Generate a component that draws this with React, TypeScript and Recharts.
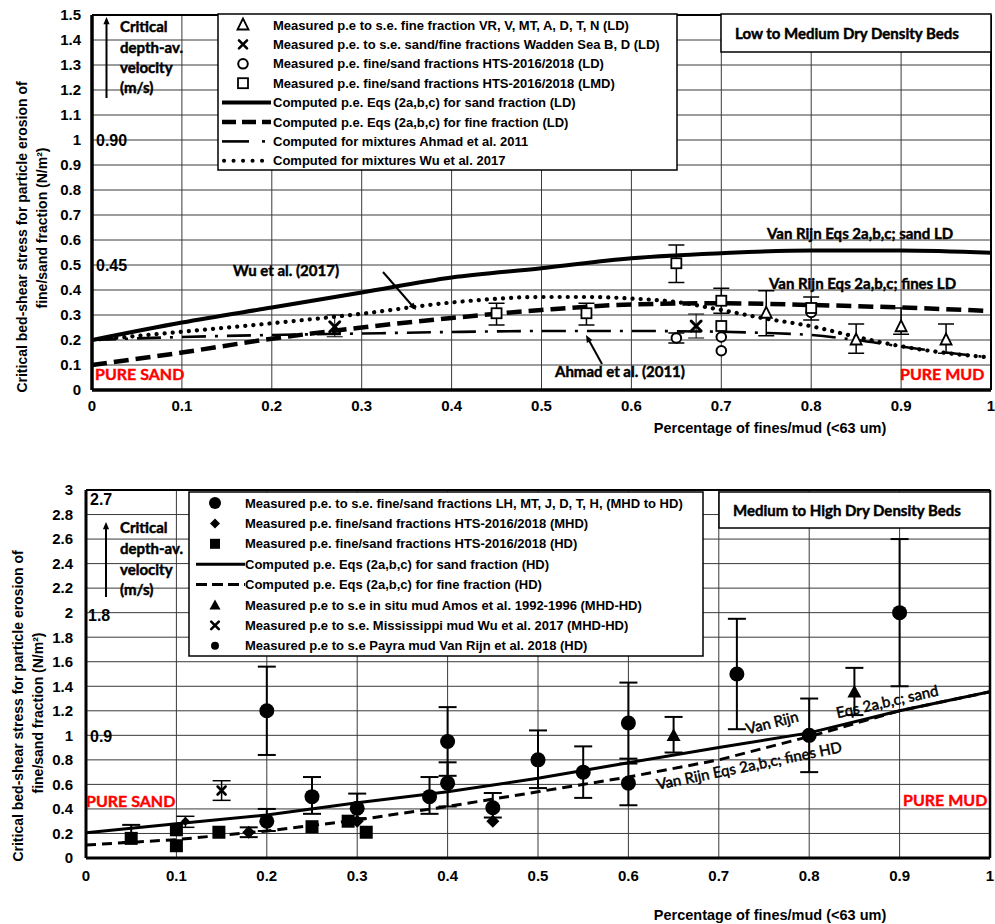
import React from "react";
import {
  CartesianGrid,
  ComposedChart,
  ErrorBar,
  Line,
  ReferenceLine,
  Scatter,
  XAxis,
  YAxis,
} from "recharts";

// shared x axis: fraction of fines/mud
const FRACTION_TICKS = [0, 0.1, 0.2, 0.3, 0.4, 0.5, 0.6, 0.7, 0.8, 0.9, 1];
const LD_STRESS_TICKS = [0, 0.1, 0.2, 0.3, 0.4, 0.5, 0.6, 0.7, 0.8, 0.9, 1, 1.1, 1.2, 1.3, 1.4, 1.5];
const HD_STRESS_TICKS = [0, 0.2, 0.4, 0.6, 0.8, 1, 1.2, 1.4, 1.6, 1.8, 2, 2.2, 2.4, 2.6, 2.8, 3];

// ---- low to medium dry density (top panel) ----
const sandLD = [
  { x: 0, y: 0.2 }, { x: 0.1, y: 0.27 }, { x: 0.2, y: 0.33 }, { x: 0.3, y: 0.39 },
  { x: 0.4, y: 0.45 }, { x: 0.5, y: 0.487 }, { x: 0.6, y: 0.527 }, { x: 0.7, y: 0.547 },
  { x: 0.8, y: 0.558 }, { x: 0.9, y: 0.558 }, { x: 1, y: 0.549 },
];
const finesLD = [
  { x: 0, y: 0.1 }, { x: 0.1, y: 0.15 }, { x: 0.2, y: 0.205 }, { x: 0.3, y: 0.25 },
  { x: 0.4, y: 0.288 }, { x: 0.5, y: 0.32 }, { x: 0.6, y: 0.342 }, { x: 0.7, y: 0.347 },
  { x: 0.8, y: 0.34 }, { x: 0.9, y: 0.33 }, { x: 1, y: 0.316 },
];
const ahmadLD = [
  { x: 0, y: 0.2 }, { x: 0.1, y: 0.212 }, { x: 0.2, y: 0.22 }, { x: 0.3, y: 0.226 },
  { x: 0.4, y: 0.232 }, { x: 0.5, y: 0.236 }, { x: 0.6, y: 0.236 }, { x: 0.7, y: 0.233 },
  { x: 0.75, y: 0.228 }, { x: 0.8, y: 0.22 }, { x: 0.85, y: 0.2 }, { x: 0.9, y: 0.174 },
  { x: 0.95, y: 0.15 }, { x: 1, y: 0.13 },
];
const wuLD = [
  { x: 0, y: 0.2 }, { x: 0.1, y: 0.233 }, { x: 0.2, y: 0.267 }, { x: 0.3, y: 0.305 },
  { x: 0.4, y: 0.35 }, { x: 0.5, y: 0.372 }, { x: 0.55, y: 0.372 }, { x: 0.6, y: 0.366 },
  { x: 0.65, y: 0.352 }, { x: 0.7, y: 0.32 }, { x: 0.75, y: 0.285 }, { x: 0.8, y: 0.255 },
  { x: 0.85, y: 0.213 }, { x: 0.9, y: 0.175 }, { x: 0.95, y: 0.148 }, { x: 1, y: 0.13 },
];
const finesVR_LD = [
  { x: 0.75, y: 0.307, err: [0.09, 0.09] },
  { x: 0.85, y: 0.2, err: [0.053, 0.064] },
  { x: 0.9, y: 0.253, err: [0.03, 0.075] },
  { x: 0.95, y: 0.2, err: [0.053, 0.064] },
];
const waddenLD = [
  { x: 0.27, y: 0.253, err: [0.04, 0.047] },
  { x: 0.672, y: 0.256, err: [0.048, 0.048] },
];
const htsLD = [
  { x: 0.65, y: 0.208, err: [0.02, 0.02] },
  { x: 0.7, y: 0.212 },
  { x: 0.7, y: 0.157 },
  { x: 0.8, y: 0.31 },
];
const htsLMD = [
  { x: 0.45, y: 0.307, err: [0.047, 0.04] },
  { x: 0.55, y: 0.307, err: [0.047, 0.04] },
  { x: 0.65, y: 0.507, err: [0.077, 0.073] },
  { x: 0.7, y: 0.357, err: [0.05, 0.05] },
  { x: 0.7, y: 0.256 },
  { x: 0.8, y: 0.328, err: [0.048, 0.044] },
];

// ---- medium to high dry density (bottom panel) ----
const sandHD = [
  { x: 0, y: 0.205 }, { x: 0.1, y: 0.28 }, { x: 0.2, y: 0.35 }, { x: 0.3, y: 0.45 },
  { x: 0.4, y: 0.54 }, { x: 0.5, y: 0.65 }, { x: 0.6, y: 0.777 }, { x: 0.7, y: 0.9 },
  { x: 0.8, y: 1.02 }, { x: 0.9, y: 1.2 }, { x: 1, y: 1.355 },
];
const finesHD = [
  { x: 0, y: 0.106 }, { x: 0.1, y: 0.15 }, { x: 0.2, y: 0.22 }, { x: 0.3, y: 0.31 },
  { x: 0.4, y: 0.42 }, { x: 0.5, y: 0.54 }, { x: 0.6, y: 0.66 }, { x: 0.7, y: 0.8 },
  { x: 0.8, y: 0.99 }, { x: 0.9, y: 1.2 }, { x: 1, y: 1.355 },
];
const mixedHD = [
  { x: 0.2, y: 1.2, err: [0.36, 0.36] },
  { x: 0.2, y: 0.3, err: [0.08, 0.1] },
  { x: 0.25, y: 0.5, err: [0.14, 0.16] },
  { x: 0.3, y: 0.405, err: [0.08, 0.12] },
  { x: 0.38, y: 0.5, err: [0.14, 0.16] },
  { x: 0.4, y: 0.95, err: [0.28, 0.28] },
  { x: 0.4, y: 0.61, err: [0.19, 0.17] },
  { x: 0.45, y: 0.41, err: [0.08, 0.12] },
  { x: 0.5, y: 0.8, err: [0.23, 0.24] },
  { x: 0.55, y: 0.7, err: [0.21, 0.21] },
  { x: 0.6, y: 1.1, err: [0.33, 0.33] },
  { x: 0.6, y: 0.61, err: [0.18, 0.2] },
  { x: 0.72, y: 1.5, err: [0.45, 0.45] },
  { x: 0.8, y: 1.0, err: [0.3, 0.3] },
  { x: 0.9, y: 2.0, err: [0.6, 0.6] },
];
const htsMHD = [
  { x: 0.18, y: 0.21, err: [0.04, 0.04] },
  { x: 0.3, y: 0.3 },
  { x: 0.45, y: 0.3 },
];
const htsHD = [
  { x: 0.05, y: 0.16, err: [0.03, 0.11] },
  { x: 0.1, y: 0.23 },
  { x: 0.1, y: 0.1 },
  { x: 0.147, y: 0.21 },
  { x: 0.25, y: 0.255 },
  { x: 0.29, y: 0.3 },
  { x: 0.31, y: 0.21 },
];
const amosHD = [
  { x: 0.65, y: 1.0, err: [0.14, 0.15] },
  { x: 0.85, y: 1.355, err: [0.19, 0.195] },
];
const mississippiHD = [{ x: 0.15, y: 0.55, err: [0.08, 0.08] }];
const payraHD = [{ x: 0.11, y: 0.3, err: [0.05, 0.04] }];

const LD_LEGEND = [
  "Measured p.e to s.e. fine fraction VR, V, MT, A, D, T, N (LD)",
  "Measured p.e. to s.e. sand/fine fractions Wadden Sea B, D (LD)",
  "Measured p.e. fine/sand fractions HTS-2016/2018 (LD)",
  "Measured p.e. fine/sand fractions HTS-2016/2018 (LMD)",
  "Computed p.e. Eqs (2a,b,c) for sand fraction (LD)",
  "Computed p.e. Eqs (2a,b,c) for fine fraction (LD)",
  "Computed for mixtures Ahmad et al. 2011",
  "Computed for mixtures Wu et al. 2017",
];
const HD_LEGEND = [
  "Measured p.e. to s.e. fine/sand fractions LH, MT, J, D, T, H, (MHD to HD)",
  "Measured p.e. fine/sand fractions HTS-2016/2018 (MHD)",
  "Measured p.e. fine/sand fractions HTS-2016/2018 (HD)",
  "Computed p.e. Eqs (2a,b,c) for sand fraction (HD)",
  "Computed p.e. Eqs (2a,b,c) for fine fraction (HD)",
  "Measured p.e to s.e in situ mud Amos et al. 1992-1996 (MHD-HD)",
  "Measured p.e to s.e. Mississippi mud Wu et al. 2017 (MHD-HD)",
  "Measured p.e to s.e Payra mud Van Rijn et al. 2018 (HD)",
];

const ARIAL = "'Liberation Sans', Arial, sans-serif";
const CALIBRI = "Lato, 'Noto Sans', sans-serif";
const TICK = { fill: "#000", fontSize: 15, fontWeight: 700, fontFamily: ARIAL };
const GRID = "#3a3a3a";

// marker shapes
const OpenTriangle = ({ cx, cy }: any) => (
  <polygon points={`${cx},${cy - 6.5} ${cx - 5.5},${cy + 4.5} ${cx + 5.5},${cy + 4.5}`}
    fill="#fff" stroke="#000" strokeWidth={1.8} />
);
const BoldCross = ({ cx, cy, s = 5, w = 3 }: any) => (
  <g stroke="#000" strokeWidth={w} strokeLinecap="round">
    <line x1={cx - s} y1={cy - s} x2={cx + s} y2={cy + s} />
    <line x1={cx - s} y1={cy + s} x2={cx + s} y2={cy - s} />
  </g>
);
const OpenCircle = ({ cx, cy }: any) => (
  <circle cx={cx} cy={cy} r={4.8} fill="#fff" stroke="#000" strokeWidth={2} />
);
const OpenSquare = ({ cx, cy }: any) => (
  <rect x={cx - 5} y={cy - 5} width={10} height={10} fill="#fff" stroke="#000" strokeWidth={1.8} />
);
const FilledCircle = ({ cx, cy }: any) => <circle cx={cx} cy={cy} r={7.5} fill="#000" />;
const FilledSquare = ({ cx, cy }: any) => (
  <rect x={cx - 6.5} y={cy - 6.5} width={13} height={13} fill="#000" />
);
const FilledDiamond = ({ cx, cy, s = 6.5 }: any) => (
  <polygon points={`${cx},${cy - s} ${cx + s},${cy} ${cx},${cy + s} ${cx - s},${cy}`} fill="#000" />
);
const FilledTriangle = ({ cx, cy, s = 7 }: any) => (
  <polygon points={`${cx},${cy - s} ${cx - s},${cy + s * 0.8} ${cx + s},${cy + s * 0.8}`} fill="#000" />
);
const SmallCross = (p: any) => <BoldCross {...p} s={4} w={2.6} />;
const SmallDiamond = (p: any) => <FilledDiamond {...p} s={4.5} />;

function Bars({ cap = 8, w = 1.5 }: { cap?: number; w?: number }) {
  return <ErrorBar dataKey="err" direction="y" width={cap} stroke="#000" strokeWidth={w} />;
}

function LowDensityChart() {
  return (
    <ComposedChart width={995} height={445} margin={{ top: 15, right: 4, bottom: 15, left: 42 }}>
      <CartesianGrid stroke={GRID} strokeWidth={1} />
      <XAxis dataKey="x" type="number" domain={[0, 1]} ticks={FRACTION_TICKS} allowDataOverflow
        height={40} tick={TICK} tickLine={false} tickSize={0} tickMargin={10}
        axisLine={{ stroke: "#000", strokeWidth: 3.5 }} />
      <YAxis type="number" domain={[0, 1.5]} ticks={LD_STRESS_TICKS} allowDataOverflow
        width={50} tick={TICK} tickLine={false} tickSize={0} tickMargin={11}
        axisLine={{ stroke: "#000", strokeWidth: 3.5 }} />
      <ReferenceLine y={1.5} stroke="#000" strokeWidth={2} />
      <ReferenceLine x={1} stroke="#000" strokeWidth={2} />
      <Line data={wuLD} dataKey="y" type="monotone" stroke="#000" strokeWidth={4.2}
        strokeDasharray="0.1 8" strokeLinecap="round" dot={false} activeDot={false} isAnimationActive={false} />
      <Line data={ahmadLD} dataKey="y" type="monotone" stroke="#000" strokeWidth={2.6}
        strokeDasharray="24 9 3 9" dot={false} activeDot={false} isAnimationActive={false} />
      <Line data={finesLD} dataKey="y" type="monotone" stroke="#000" strokeWidth={4.5}
        strokeDasharray="15 7" dot={false} activeDot={false} isAnimationActive={false} />
      <Line data={sandLD} dataKey="y" type="monotone" stroke="#000" strokeWidth={4}
        dot={false} activeDot={false} isAnimationActive={false} />
      <Scatter data={finesVR_LD} dataKey="y" shape={OpenTriangle} isAnimationActive={false}>
        <Bars />
      </Scatter>
      <Scatter data={waddenLD} dataKey="y" shape={(p: any) => <BoldCross {...p} />} isAnimationActive={false}>
        <Bars w={1} />
      </Scatter>
      <Scatter data={htsLD} dataKey="y" shape={OpenCircle} isAnimationActive={false}>
        <Bars />
      </Scatter>
      <Scatter data={htsLMD} dataKey="y" shape={OpenSquare} isAnimationActive={false}>
        <Bars />
      </Scatter>
    </ComposedChart>
  );
}

function HighDensityChart() {
  return (
    <ComposedChart width={995} height={464} margin={{ top: 30, right: 5, bottom: 0, left: 36 }}>
      <CartesianGrid stroke={GRID} strokeWidth={1} />
      <XAxis dataKey="x" type="number" domain={[0, 1]} ticks={FRACTION_TICKS} allowDataOverflow
        height={66} tick={TICK} tickLine={false} tickSize={0} tickMargin={12}
        axisLine={{ stroke: "#000", strokeWidth: 3 }} />
      <YAxis type="number" domain={[0, 3]} ticks={HD_STRESS_TICKS} allowDataOverflow
        width={50} tick={TICK} tickLine={false} tickSize={0} tickMargin={13}
        axisLine={{ stroke: "#000", strokeWidth: 3 }} />
      <ReferenceLine y={3} stroke="#000" strokeWidth={2} />
      <ReferenceLine x={1} stroke="#000" strokeWidth={2.5} />
      <Line data={finesHD} dataKey="y" type="linear" stroke="#000" strokeWidth={3}
        strokeDasharray="10 6" dot={false} activeDot={false} isAnimationActive={false} />
      <Line data={sandHD} dataKey="y" type="linear" stroke="#000" strokeWidth={3}
        dot={false} activeDot={false} isAnimationActive={false} />
      <Scatter data={mixedHD} dataKey="y" shape={FilledCircle} isAnimationActive={false}>
        <Bars cap={9} w={2} />
      </Scatter>
      <Scatter data={htsMHD} dataKey="y" shape={(p: any) => <FilledDiamond {...p} />} isAnimationActive={false}>
        <Bars cap={9} w={2} />
      </Scatter>
      <Scatter data={htsHD} dataKey="y" shape={FilledSquare} isAnimationActive={false}>
        <Bars cap={9} w={2} />
      </Scatter>
      <Scatter data={amosHD} dataKey="y" shape={(p: any) => <FilledTriangle {...p} />} isAnimationActive={false}>
        <Bars cap={9} w={2} />
      </Scatter>
      <Scatter data={mississippiHD} dataKey="y" shape={SmallCross} isAnimationActive={false}>
        <Bars cap={9} w={1.5} />
      </Scatter>
      <Scatter data={payraHD} dataKey="y" shape={SmallDiamond} isAnimationActive={false}>
        <Bars cap={9} w={1.5} />
      </Scatter>
    </ComposedChart>
  );
}

function Arrow({ x1, y1, x2, y2, head = 8 }: any) {
  const a = Math.atan2(y2 - y1, x2 - x1);
  const hx1 = x2 - head * Math.cos(a - 0.4);
  const hy1 = y2 - head * Math.sin(a - 0.4);
  const hx2 = x2 - head * Math.cos(a + 0.4);
  const hy2 = y2 - head * Math.sin(a + 0.4);
  return (
    <g>
      <line x1={x1} y1={y1} x2={x2 - (head - 2) * Math.cos(a)} y2={y2 - (head - 2) * Math.sin(a)}
        stroke="#000" strokeWidth={2} />
      <polygon points={`${x2},${y2} ${hx1},${hy1} ${hx2},${hy2}`} fill="#000" />
    </g>
  );
}

function LdLegendSymbol({ i, y }: { i: number; y: number }) {
  const cx = 243;
  switch (i) {
    case 0: return <OpenTriangle cx={cx} cy={y} />;
    case 1: return <BoldCross cx={cx} cy={y} s={4} w={2.6} />;
    case 2: return <OpenCircle cx={cx} cy={y} />;
    case 3: return <OpenSquare cx={cx} cy={y} />;
    case 4: return <line x1={222} x2={271} y1={y} y2={y} stroke="#000" strokeWidth={4} />;
    case 5: return <line x1={222} x2={271} y1={y} y2={y} stroke="#000" strokeWidth={4.5} strokeDasharray="14 6" />;
    case 6: return (
      <g>
        <line x1={222} x2={249} y1={y} y2={y} stroke="#000" strokeWidth={2.6} />
        <line x1={262} x2={265} y1={y} y2={y} stroke="#000" strokeWidth={2.6} />
      </g>
    );
    default: return <line x1={224} x2={271} y1={y} y2={y} stroke="#000" strokeWidth={4}
      strokeDasharray="0.1 9.4" strokeLinecap="round" />;
  }
}

function HdLegendSymbol({ i, y }: { i: number; y: number }) {
  const cx = 215;
  switch (i) {
    case 0: return <circle cx={cx} cy={y} r={6} fill="#000" />;
    case 1: return <FilledDiamond cx={cx} cy={y} s={5} />;
    case 2: return <rect x={cx - 5} y={y - 5} width={10} height={10} fill="#000" />;
    case 3: return <line x1={196} x2={245} y1={y} y2={y} stroke="#000" strokeWidth={3} />;
    case 4: return <line x1={196} x2={245} y1={y} y2={y} stroke="#000" strokeWidth={3} strokeDasharray="11 5" />;
    case 5: return <FilledTriangle cx={cx} cy={y} s={5.5} />;
    case 6: return <BoldCross cx={cx} cy={y} s={3.8} w={2.6} />;
    default: return <circle cx={cx} cy={y} r={4} fill="#000" />;
  }
}

function Overlay() {
  const bold = { fontFamily: ARIAL, fontWeight: 700, fill: "#000" } as const;
  // Calibri-like annotation text, slightly emboldened with a thin stroke
  const cal = { fontFamily: CALIBRI, fontWeight: 700, fill: "#000", stroke: "#000", strokeWidth: 0.45 } as const;
  const red = { fontFamily: CALIBRI, fontWeight: 700, fill: "#ff0000", stroke: "#ff0000", strokeWidth: 0.4, fontSize: 16 } as const;
  return (
    <svg width={995} height={924} style={{ position: "absolute", left: 0, top: 0, pointerEvents: "none" }}>
      {/* axis titles */}
      <g style={bold} fontSize={14} textAnchor="middle" dominantBaseline="central">
        <text transform="translate(22,237) rotate(-90)">Critical bed-shear stress for particle erosion of</text>
        <text transform="translate(42,228) rotate(-90)">fine/sand fraction  (N/m²)</text>
        <text transform="translate(18,706) rotate(-90)">Critical bed-shear stress for particle erosion of</text>
        <text transform="translate(38,713) rotate(-90)">fine/sand fraction  (N/m²)</text>
        <text x={770} y={428} fontSize={14.5}>Percentage of fines/mud (&lt;63 um)</text>
        <text x={770} y={915} fontSize={14.5}>Percentage of fines/mud (&lt;63 um)</text>
      </g>

      {/* top panel annotations */}
      <g style={cal} fontSize={15} dominantBaseline="central">
        <text x={120} y={26}>Critical</text>
        <text x={120} y={47}>depth-av.</text>
        <text x={120} y={67}>velocity</text>
        <text x={120} y={87}>(m/s)</text>
        <text x={233} y={270}>Wu et al. (2017)</text>
        <text x={555} y={371}>Ahmad et al. (2011)</text>
        <text x={767} y={233}>Van Rijn Eqs 2a,b,c; sand LD</text>
        <text x={769} y={283}>Van Rijn Eqs 2a,b,c; fines LD</text>
      </g>
      <g style={bold} fontSize={16} dominantBaseline="central">
        <text x={96} y={140}>0.90</text>
        <text x={96} y={265}>0.45</text>
      </g>
      <Arrow x1={106.5} y1={98} x2={106.5} y2={17} />
      <Arrow x1={383} y1={272} x2={416} y2={310} />
      <Arrow x1={602} y1={364} x2={586} y2={335} />
      <g dominantBaseline="central">
        <text x={95} y={373} style={red}>PURE SAND</text>
        <text x={900} y={373} style={red}>PURE MUD</text>
      </g>
      <rect x={218} y={14} width={459} height={156} fill="#fff" stroke="#000" strokeWidth={1.5} />
      {LD_LEGEND.map((t, i) => {
        const y = 25 + i * 19.4;
        return (
          <g key={t}>
            <LdLegendSymbol i={i} y={y} />
            <text x={273} y={y} dominantBaseline="central" style={bold} fontSize={13}>{t}</text>
          </g>
        );
      })}
      <rect x={721} y={14} width={270} height={38} fill="#fff" stroke="#000" strokeWidth={1.5} />
      <text x={735} y={33} dominantBaseline="central" style={cal} fontSize={15}>Low to Medium Dry Density Beds</text>

      {/* bottom panel annotations */}
      <g style={cal} fontSize={15} dominantBaseline="central">
        <text x={120} y={527}>Critical</text>
        <text x={120} y={548}>depth-av.</text>
        <text x={120} y={569}>velocity</text>
        <text x={120} y={589}>(m/s)</text>
      </g>
      <g style={bold} fontSize={16} dominantBaseline="central">
        <text x={90} y={499}>2.7</text>
        <text x={88} y={615}>1.8</text>
        <text x={90} y={736}>0.9</text>
      </g>
      <Arrow x1={106} y1={597} x2={106} y2={522} />
      <g dominantBaseline="central">
        <text x={86} y={800} style={red}>PURE SAND</text>
        <text x={903} y={799} style={red}>PURE MUD</text>
      </g>
      <g fontFamily={CALIBRI} fontSize={15} fill="#000" stroke="#000" strokeWidth={0.5}
        textAnchor="middle" dominantBaseline="central">
        <text transform="translate(749,765) rotate(-11.6)">Van Rijn Eqs 2a,b,c; fines HD</text>
        <text transform="translate(772,722) rotate(-14)">Van Rijn</text>
        <text transform="translate(887,701) rotate(-12.7)">Eqs 2a,b,c; sand</text>
      </g>
      <rect x={189} y={492} width={514} height={164} fill="#fff" stroke="#000" strokeWidth={1.5} />
      {HD_LEGEND.map((t, i) => {
        const y = 503 + i * 20.4;
        return (
          <g key={t}>
            <HdLegendSymbol i={i} y={y} />
            <text x={245} y={y} dominantBaseline="central" style={bold} fontSize={13}>{t}</text>
          </g>
        );
      })}
      <rect x={719} y={492} width={271} height={36} fill="#fff" stroke="#000" strokeWidth={1.5} />
      <text x={733} y={510} dominantBaseline="central" style={cal} fontSize={15}>Medium to High Dry Density Beds</text>
    </svg>
  );
}

export default function App() {
  return (
    <div style={{ position: "absolute", left: 0, top: 0, width: 995, height: 924, background: "#fff" }}>
      <div style={{ position: "absolute", left: 0, top: 0 }}>
        <LowDensityChart />
      </div>
      <div style={{ position: "absolute", left: 0, top: 460 }}>
        <HighDensityChart />
      </div>
      <Overlay />
    </div>
  );
}
